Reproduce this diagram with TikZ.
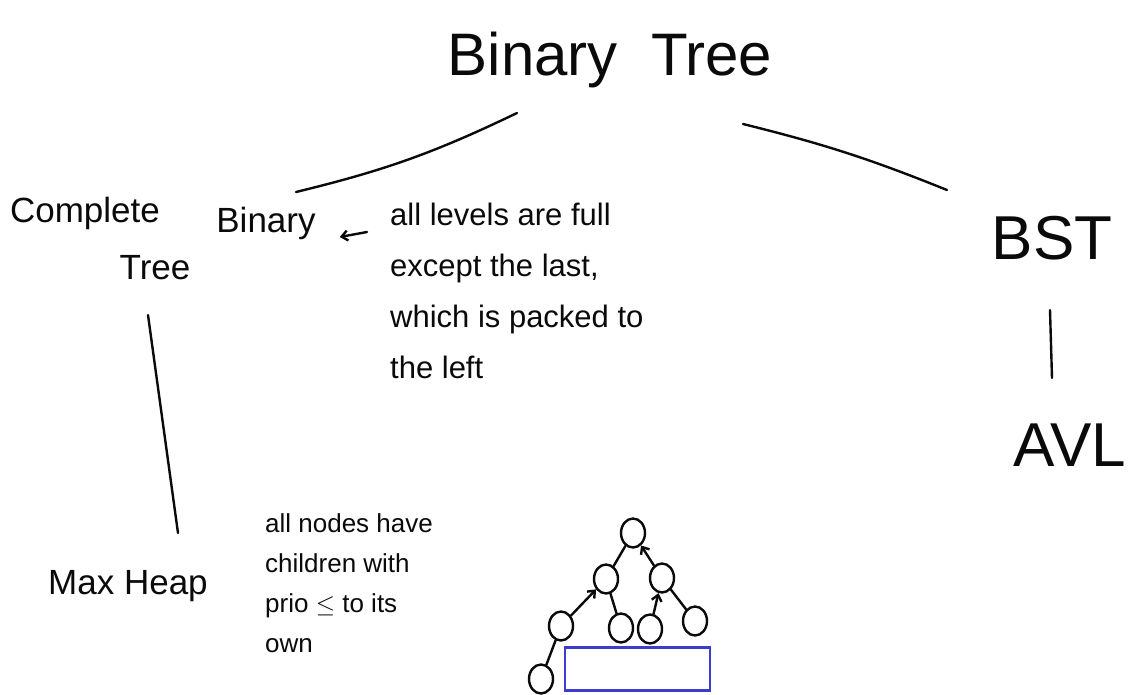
\documentclass[tikz,border=0pt]{standalone}
\usepackage{fontspec}
\setmainfont{Liberation Sans}
\usetikzlibrary{arrows.meta,positioning,shapes.geometric}
\definecolor{tinta}{RGB}{10,10,10}
\definecolor{marca}{RGB}{60,60,205}
\tikzset{
  titulo/.style={font=\fontsize{60}{66}\selectfont, text=tinta, inner sep=0pt},
  rama/.style={font=\fontsize{35}{48}\selectfont, text=tinta, align=center, inner sep=0pt},
  grande/.style={font=\fontsize{62}{66}\selectfont, text=tinta, inner sep=0pt},
  nota/.style={font=\fontsize{31}{51}\selectfont, text=tinta, align=left, inner sep=0pt},
  notab/.style={font=\fontsize{26}{40}\selectfont, text=tinta, align=left, inner sep=0pt},
  hoja/.style={draw=tinta, ellipse, line width=2.4pt, minimum width=24pt, minimum height=29pt, inner sep=0pt},
  trazo/.style={draw=tinta, line width=2.4pt, line cap=round},
  fl/.style={trazo, -{Straight Barb[length=6pt,width=10pt]}},
}
\begin{document}
\begin{tikzpicture}[x=1pt, y=-1pt]
  \useasboundingbox (0,0) rectangle (1138,694);
  % titles
  \node[titulo] (bt)  at (610,60) {Binary\ \ Tree};
  \node[rama]   (cmp) at (85,213) {Complete};
  \node[rama]   (tre) at (155,268) {Tree};
  \node[rama]   (bin) at (266,223) {Binary};
  \node[nota, anchor=north west] (def) at (390,203)
    {all levels are full\\ except the last,\\ which is packed to\\ the left};
  \node[rama]   (mh)  at (128,586) {Max Heap};
  \node[notab, anchor=north west] (prio) at (265,513)
    {all nodes have\\ children with\\ prio $\leq$ to its\\ own};
  \node[grande] (bst) at (1052,238) {BST};
  \node[grande] (avl) at (1070,445) {AVL};
  % connectors
  \coordinate (btl) at (517,113);
  \coordinate (btr) at (743,124);
  \coordinate (binn) at (296,192);
  \coordinate (bstn) at (947,190);
  \coordinate (ar) at (367,232);
  \draw[trazo] (btl) to[bend left=6] (binn);
  \draw[trazo] (btr) to[bend left=4] (bstn);
  \draw[fl] (ar) -- ([xshift=24pt,yshift=-14pt]bin.east);
  \coordinate (tr1) at (148,315);
  \coordinate (tr2) at (178,533);
  \draw[trazo] (tr1) -- (tr2);
  \coordinate (bs1) at (1050,310);
  \coordinate (bs2) at (1052,378);
  \draw[trazo] (bs1) -- (bs2);
  % small tree
  \node[hoja] (n1) at (633,533) {};
  \node[hoja] (n2) at (606,579) {};
  \node[hoja] (n3) at (662,578) {};
  \node[hoja] (n4) at (561,626) {};
  \node[hoja] (n5) at (621,628) {};
  \node[hoja] (n6) at (650,629) {};
  \node[hoja] (n7) at (695,621) {};
  \node[hoja] (n8) at (541,679) {};
  \draw[trazo] (n1) -- (n2);
  \draw[fl] (n3) -- (n1);
  \draw[fl] (n4) -- (n2);
  \draw[trazo] (n2) -- (n5);
  \draw[fl] (n6) -- (n3);
  \draw[trazo] (n3) -- (n7);
  \draw[trazo] (n4) -- (n8);
  \node[draw=marca, line width=2.4pt, minimum width=145pt, minimum height=43pt, inner sep=0pt] (caja) at (637.5,669) {};
\end{tikzpicture}
\end{document}
